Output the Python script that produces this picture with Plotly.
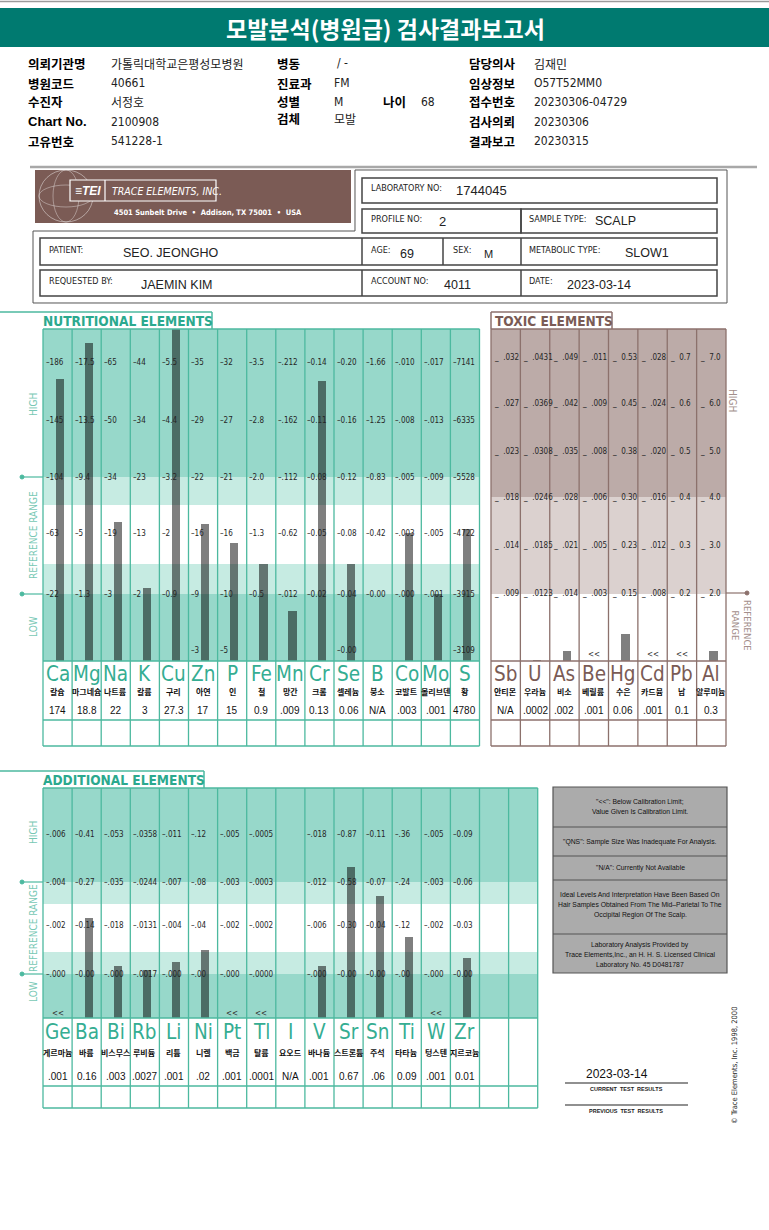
import plotly.graph_objects as go

W, H = 769, 1230

# ---------------- DATA ----------------
nut_symbols = ["Ca", "Mg", "Na", "K", "Cu", "Zn", "P", "Fe", "Mn", "Cr", "Se", "B", "Co", "Mo", "S"]
nut_korean = ["칼슘", "마그네슘", "나트륨", "칼륨", "구리", "아연", "인", "철", "망간", "크롬", "셀레늄", "붕소", "코발트", "몰리브덴", "황"]
nut_results = ["174", "18.8", "22", "3", "27.3", "17", "15", "0.9", ".009", "0.13", "0.06", "N/A", ".003", ".001", "4780"]
# scale ticks, bottom -> top (None = no printed bottom tick)
nut_ticks = [
    [None, "22", "63", "104", "145", "186"],
    [None, "1.3", "5", "9.4", "13.5", "17.5"],
    [None, "3", "19", "34", "50", "65"],
    [None, "2", "13", "23", "34", "44"],
    [None, "0.9", "2", "3.2", "4.4", "5.5"],
    ["3", "9", "16", "22", "29", "35"],
    ["5", "10", "16", "21", "27", "32"],
    [None, "0.5", "1.3", "2.0", "2.8", "3.5"],
    [None, ".012", "0.62", ".112", ".162", ".212"],
    [None, "0.02", "0.05", "0.08", "0.11", "0.14"],
    ["0.00", "0.04", "0.08", "0.12", "0.16", "0.20"],
    [None, "0.00", "0.42", "0.83", "1.25", "1.66"],
    [None, ".000", ".003", ".005", ".008", ".010"],
    [None, ".001", ".005", ".009", ".013", ".017"],
    ["3109", "3915", "4722", "5528", "6335", "7141"],
]

tox_symbols = ["Sb", "U", "As", "Be", "Hg", "Cd", "Pb", "Al"]
tox_korean = ["안티몬", "우라늄", "비소", "베릴륨", "수은", "카드뮴", "납", "알루미늄"]
tox_results = ["N/A", ".0002", ".002", ".001", "0.06", ".001", "0.1", "0.3"]
tox_below = [False, False, False, True, False, True, True, False]
tox_ticks = [
    [".009", ".014", ".018", ".023", ".027", ".032"],
    [".0123", ".0185", ".0246", ".0308", ".0369", ".0431"],
    [".014", ".021", ".028", ".035", ".042", ".049"],
    [".003", ".005", ".006", ".008", ".009", ".011"],
    ["0.15", "0.23", "0.30", "0.38", "0.45", "0.53"],
    [".008", ".012", ".016", ".020", ".024", ".028"],
    ["0.2", "0.3", "0.4", "0.5", "0.6", "0.7"],
    ["2.0", "3.0", "4.0", "5.0", "6.0", "7.0"],
]

add_symbols = ["Ge", "Ba", "Bi", "Rb", "Li", "Ni", "Pt", "Tl", "I", "V", "Sr", "Sn", "Ti", "W", "Zr"]
add_korean = ["게르마늄", "바륨", "비스무스", "루비듐", "리튬", "니켈", "백금", "탈륨", "요오드", "바나듐", "스트론튬", "주석", "타타늄", "텅스텐", "지르코늄"]
add_results = [".001", "0.16", ".003", ".0027", ".001", ".02", ".001", ".0001", "N/A", ".001", "0.67", ".06", "0.09", ".001", "0.01"]
add_below = [True, False, False, False, False, False, True, True, False, False, False, False, False, True, False]
add_ticks = [
    [".000", ".002", ".004", ".006"],
    ["0.00", "0.14", "0.27", "0.41"],
    [".000", ".018", ".035", ".053"],
    [".0017", ".0131", ".0244", ".0358"],
    [".000", ".004", ".007", ".011"],
    [".00", ".04", ".08", ".12"],
    [".000", ".002", ".003", ".005"],
    [".0000", ".0002", ".0003", ".0005"],
    [],
    [".000", ".006", ".012", ".018"],
    ["0.00", "0.30", "0.58", "0.87"],
    ["0.00", "0.04", "0.07", "0.11"],
    [".00", ".12", ".24", ".36"],
    [".000", ".002", ".003", ".005"],
    ["0.00", "0.03", "0.06", "0.09"],
]

info_rows = [
    ("의뢰기관명", "가톨릭대학교은평성모병원", "병동", "/ -", "담당의사", "김재민"),
    ("병원코드", "40661", "진료과", "FM", "임상정보", "O57T52MM0"),
    ("수진자", "서정호", "성별", "M", "접수번호", "20230306-04729"),
    ("Chart No.", "2100908", "검체", "모발", "검사의뢰", "20230306"),
    ("고유번호", "541228-1", "", "", "결과보고", "20230315"),
]
age_label, age_value = "나이", "68"

# ---------------- STYLE ----------------
FN = "Liberation Sans Narrow, Arial Narrow, DejaVu Sans Condensed, sans-serif"
FS = "Liberation Sans, Arial, sans-serif"
FK = "Noto Sans CJK KR, sans-serif"
TEAL_DARK = "#97d8ca"
TEAL_LIGHT = "#c6ebe2"
TEAL_LINE = "#4cb99f"
TEAL_TEXT = "#2ba98e"
TEAL_SIDE = "#78c8b5"
BR_DARK = "#bcaba8"
BR_LIGHT = "#dbd1cf"
BR_LINE = "#8c716c"
BR_TEXT = "#7a5b55"
BAR = "rgba(0,0,0,0.5)"
TICK = "#262626"

shapes, annots = [], []


def X(x):
    return x / W


def Y(y):
    return 1 - y / H


def rect(x0, y0, x1, y1, fill=None, color=None, width=1, layer="below"):
    shapes.append(dict(type="rect", xref="paper", yref="paper", x0=X(x0), x1=X(x1), y0=Y(y1), y1=Y(y0),
                       fillcolor=fill or "rgba(0,0,0,0)",
                       line=dict(color=color or "rgba(0,0,0,0)", width=width if color else 0), layer=layer))


def seg(x0, y0, x1, y1, color, width=1, layer="above"):
    shapes.append(dict(type="line", xref="paper", yref="paper", x0=X(x0), x1=X(x1), y0=Y(y0), y1=Y(y1),
                       line=dict(color=color, width=width), layer=layer))


def circ(cx, cy, rx, ry, color, width=0.8, fill=None):
    shapes.append(dict(type="circle", xref="paper", yref="paper", x0=X(cx - rx), x1=X(cx + rx),
                       y0=Y(cy + ry), y1=Y(cy - ry), line=dict(color=color, width=width),
                       fillcolor=fill or "rgba(0,0,0,0)", layer="below"))


def txt(x, y, s, size=10, color="#000", family=FS, xa="left", ya="middle", angle=0):
    annots.append(dict(xref="paper", yref="paper", x=X(x), y=Y(y), text=s, showarrow=False,
                       xanchor=xa, yanchor=ya, textangle=angle, borderpad=0,
                       font=dict(size=size, color=color, family=family)))


def to_height(v, pairs):
    for (a, ha), (b, hb) in zip(pairs[:-1], pairs[1:]):
        if a != b and min(a, b) <= v <= max(a, b):
            return ha + (v - a) / (b - a) * (hb - ha)
    (a, ha), (b, hb) = pairs[-2], pairs[-1]
    return hb + (v - b) / (b - a) * (hb - ha)


def bar_data(symbols, results, ticks, tick_h, below, zero_base, top):
    xs, hs = [], []
    for i, (s, r, tk) in enumerate(zip(symbols, results, ticks)):
        if below[i] or not tk:
            continue
        try:
            v = float(r)
        except ValueError:
            continue
        pairs = [(float(t), h) for t, h in zip(tk, tick_h) if t is not None]
        if zero_base and (tk[0] is None or zero_base == "always"):
            pairs = [(0.0, 0.0)] + pairs
        xs.append(s)
        hs.append(min(to_height(v, pairs), top))
    return xs, hs


# ---------------- HEADER ----------------
seg(0, 1.5, W, 1.5, "#9a9a9a", 1.5)
rect(0, 8, W, 47, fill="#007a70")
txt(W / 2 + 1, 28, "<b>모발분석(병원급) 검사결과보고서</b>", 23, "#ffffff", FK, xa="center")

row_y = [63, 83, 102, 122, 141]
for (l1, v1, l2, v2, l3, v3), yy in zip(info_rows, row_y):
    fam1 = FS if l1.startswith("Chart") else FK
    txt(27, yy, "<b>%s</b>" % l1, 12.5 if fam1 == FK else 13, "#000", fam1)
    txt(110, yy, v1, 12, "#222", FK if not v1[0].isdigit() else FN)
    if l2:
        txt(276, yy - (4 if l2 == "검체" else 0), "<b>%s</b>" % l2, 12.5, "#000", FK)
        txt(336 if v2 == "/ -" else 333, yy - (4 if l2 == "검체" else 0), v2, 12, "#222",
            FK if v2 == "모발" else FN)
    txt(468, yy, "<b>%s</b>" % l3, 12.5, "#000", FK)
    txt(533, yy, v3, 12, "#222", FK if v3 == "김재민" else FN)
txt(382, row_y[2], "<b>%s</b>" % age_label, 12.5, "#000", FK)
txt(420, row_y[2], age_value, 12, "#222", FN)

# ---------------- TEI BLOCK ----------------
seg(30, 167, 757, 167, "#a8a8a8", 2.5)
rect(35, 170, 351, 223, fill="#7b5b55")
circ(66, 196, 27, 26, "rgba(255,255,255,0.55)")
circ(66, 196, 13, 26, "rgba(255,255,255,0.45)")
circ(66, 196, 27, 11, "rgba(255,255,255,0.45)")
rect(70, 180, 216, 201, fill="#7b5b55", color="#ffffff", width=1.2)
seg(105, 180, 105, 201, "#ffffff", 1.2, layer="below")
txt(74, 190.5, "<b><i>≡TEI</i></b>", 12, "#ffffff", FS)
txt(111, 190.5, "<i>TRACE ELEMENTS, INC.</i>", 10.5, "#ffffff", FN)
txt(113, 213, "<b>4501 Sunbelt Drive  •  Addison, TX 75001  •  USA</b>", 7.5, "#ffffff", FN)

shapes.append(dict(type="path", xref="paper", yref="paper",
                   path="M %f %f L %f %f L %f %f L %f %f L %f %f L %f %f Z" % (
                       X(33), Y(303), X(33), Y(231), X(355), Y(231), X(355), Y(170), X(727), Y(170), X(727), Y(303)),
                   line=dict(color="#555555", width=1), layer="below"))
BOXC = "#444444"
rect(362, 178, 717, 203, color=BOXC, width=1.5)
rect(362, 209, 521, 233, color=BOXC, width=1.5)
rect(521, 209, 717, 233, color=BOXC, width=1.5)
rect(40, 238, 717, 265, color=BOXC, width=1.5)
for xx in (362, 443, 521):
    seg(xx, 238, xx, 265, BOXC, 1.5, layer="below")
rect(40, 270, 717, 296, color=BOXC, width=1.5)
for xx in (362, 521):
    seg(xx, 270, xx, 296, BOXC, 1.5, layer="below")

SMALL = 9
txt(370, 188, "LABORATORY NO:", SMALL, "#222", FN)
txt(455, 190, "1744045", 13, "#222", FS)
txt(370, 219, "PROFILE NO:", SMALL, "#222", FN)
txt(438, 221, "2", 13, "#222", FS)
txt(528, 219, "SAMPLE TYPE:", SMALL, "#222", FN)
txt(594, 221, "SCALP", 12.5, "#222", FS)
txt(48, 250, "PATIENT:", SMALL, "#222", FN)
txt(122, 253, "SEO. JEONGHO", 12.5, "#222", FS)
txt(370, 250, "AGE:", SMALL, "#222", FN)
txt(399, 254, "69", 12.5, "#222", FS)
txt(452, 250, "SEX:", SMALL, "#222", FN)
txt(483, 254, "M", 11, "#222", FS)
txt(528, 250, "METABOLIC TYPE:", SMALL, "#222", FN)
txt(624, 253, "SLOW1", 12.5, "#222", FS)
txt(48, 281, "REQUESTED BY:", SMALL, "#222", FN)
txt(140, 285, "JAEMIN KIM", 12.5, "#222", FS)
txt(370, 281, "ACCOUNT NO:", SMALL, "#222", FN)
txt(443, 285, "4011", 12.5, "#222", FS)
txt(528, 281, "DATE:", SMALL, "#222", FN)
txt(566, 285, "2023-03-14", 12.5, "#222", FS)

# ---------------- NUTRITIONAL ----------------
N_L, N_CW, N_TOP, N_BOT = 43, 29.1, 329, 661
nut_tick_h = [11, 67, 128, 184, 241, 299]
nn = len(nut_symbols)
N_R = N_L + nn * N_CW
rect(N_L, 329, N_R, 477, fill=TEAL_DARK)
rect(N_L, 477, N_R, 505, fill=TEAL_LIGHT)
rect(N_L, 564, N_R, 594, fill=TEAL_LIGHT)
rect(N_L, 594, N_R, N_BOT, fill=TEAL_DARK)
seg(0, 312, 212, 312, TEAL_LINE, 1.5)
seg(212, 312, 212, 329, TEAL_LINE, 1.5)
txt(42, 321, "<b>NUTRITIONAL ELEMENTS</b>", 13.6, TEAL_TEXT, FN)
for yy in (N_TOP, N_BOT, 720, 746):
    seg(N_L, yy, N_R, yy, TEAL_LINE, 1.3)
for i in range(nn + 1):
    seg(N_L + i * N_CW, N_TOP, N_L + i * N_CW, 746, TEAL_LINE, 1.3)
for yy in (477, 594):
    seg(22, yy, N_L, yy, TEAL_LINE, 1.2)
    circ(22, yy, 2, 2, TEAL_LINE, 1, TEAL_LINE)
txt(33, 405, "HIGH", 10, TEAL_SIDE, FN, xa="center", angle=-90)
txt(33, 535, "REFERENCE RANGE", 10, TEAL_SIDE, FN, xa="center", angle=-90)
txt(33, 627, "LOW", 10, TEAL_SIDE, FN, xa="center", angle=-90)
for i in range(nn):
    cl = N_L + i * N_CW
    cx = cl + N_CW / 2
    for t, h in zip(nut_ticks[i], nut_tick_h):
        if t is not None:
            txt(cl + 1.5, N_BOT - h, "–" + t, 8, TICK, FN)
    txt(cx, 674, nut_symbols[i], 20.5, "#35ad92", FN, xa="center")
    txt(cx, 691, "<b>%s</b>" % nut_korean[i], 8, "#111", FK, xa="center")
    txt(cx, 710, nut_results[i], 10, "#111", FS, xa="center")

# ---------------- TOXIC ----------------
T_L, T_CW = 491, 29.375
tox_tick_h = [68, 116, 164, 209, 257, 304]
nt = len(tox_symbols)
T_R = T_L + nt * T_CW
rect(T_L, 329, T_R, 497, fill=BR_DARK)
rect(T_L, 497, T_R, 594, fill=BR_LIGHT)
seg(T_L, 312, 612, 312, BR_LINE, 1.5)
seg(612, 312, 612, 329, BR_LINE, 1.5)
seg(T_L, 312, T_L, 329, BR_LINE, 1.5)
txt(494, 321, "<b>TOXIC ELEMENTS</b>", 13.6, BR_TEXT, FN)
for yy in (N_TOP, N_BOT, 720, 746):
    seg(T_L, yy, T_R, yy, BR_LINE, 1.3)
for i in range(nt + 1):
    seg(T_L + i * T_CW, N_TOP, T_L + i * T_CW, 746, BR_LINE, 1.3)
seg(T_R, 593, 747, 593, BR_LINE, 1.2)
circ(747, 593, 2, 2, BR_LINE, 1, BR_LINE)
txt(733, 400, "HIGH", 10, "#a38e8a", FN, xa="center", angle=90)
txt(742, 625, "REFERENCE<br>RANGE", 9.5, "#a38e8a", FN, xa="center", angle=90)
for i in range(nt):
    cl = T_L + i * T_CW
    cx = cl + T_CW / 2
    for t, h in zip(tox_ticks[i], tox_tick_h):
        txt(cl + 2, N_BOT - h, "_  " + t, 8, TICK, FN)
    if tox_below[i]:
        txt(cx, 654, "<<", 8, "#333", FN, xa="center")
    txt(cx, 674, tox_symbols[i], 20.5, BR_TEXT, FN, xa="center")
    txt(cx, 691, "<b>%s</b>" % tox_korean[i], 8, "#111", FK, xa="center")
    txt(cx, 710, tox_results[i], 10, "#111", FS, xa="center")

# ---------------- ADDITIONAL ----------------
A_L, A_CW, A_TOP, A_BOT = 43, 29.1, 788, 1018
add_tick_h = [44, 93, 136, 184]
na_cols = 17
A_R = A_L + na_cols * A_CW
rect(A_L, A_TOP, A_R, 882, fill=TEAL_DARK)
rect(A_L, 882, A_R, 904, fill=TEAL_LIGHT)
rect(A_L, 952, A_R, 974, fill=TEAL_LIGHT)
rect(A_L, 974, A_R, A_BOT, fill=TEAL_DARK)
seg(0, 771, 204, 771, TEAL_LINE, 1.5)
seg(204, 771, 204, 788, TEAL_LINE, 1.5)
txt(42, 780, "<b>ADDITIONAL ELEMENTS</b>", 13.6, TEAL_TEXT, FN)
for yy in (A_TOP, A_BOT, 1086, 1108):
    seg(A_L, yy, A_R, yy, TEAL_LINE, 1.3)
for i in range(na_cols + 1):
    seg(A_L + i * A_CW, A_TOP, A_L + i * A_CW, 1108, TEAL_LINE, 1.3)
for yy in (882, 974):
    seg(22, yy, A_L, yy, TEAL_LINE, 1.2)
    circ(22, yy, 2, 2, TEAL_LINE, 1, TEAL_LINE)
txt(33, 833, "HIGH", 10, TEAL_SIDE, FN, xa="center", angle=-90)
txt(33, 928, "REFERENCE RANGE", 10, TEAL_SIDE, FN, xa="center", angle=-90)
txt(33, 992, "LOW", 10, TEAL_SIDE, FN, xa="center", angle=-90)
for i in range(len(add_symbols)):
    cl = A_L + i * A_CW
    cx = cl + A_CW / 2
    for t, h in zip(add_ticks[i], add_tick_h):
        txt(cl + 1.5, A_BOT - h, "–" + t, 8, TICK, FN)
    if add_below[i]:
        txt(cx, 1013, "<<", 8, "#333", FN, xa="center")
    txt(cx, 1032, add_symbols[i], 20.5, "#35ad92", FN, xa="center")
    txt(cx, 1052, "<b>%s</b>" % add_korean[i], 8, "#111", FK, xa="center")
    txt(cx, 1076, add_results[i], 10, "#111", FS, xa="center")

# ---------------- NOTES BOX ----------------
rect(553, 787, 727, 973, fill="#ababab", color="#555555", width=1.2)
for yy in (827, 856, 880, 934):
    seg(553, yy, 727, yy, "#555555", 1.2)
NC = 640
NF = 6.8
txt(NC, 801, '"<<": Below Calibration Limit;', NF, "#111", FS, xa="center")
txt(NC, 811, "Value Given Is Calibration Limit.", NF, "#111", FS, xa="center")
txt(NC, 842, '"QNS": Sample Size Was Inadequate For Analysis.', NF, "#111", FS, xa="center")
txt(NC, 868, '"N/A": Currently Not Available', NF, "#111", FS, xa="center")
txt(NC, 895, "Ideal Levels And Interpretation Have Been Based On", NF, "#111", FS, xa="center")
txt(NC, 905, "Hair Samples Obtained From The Mid–Parietal To The", NF, "#111", FS, xa="center")
txt(NC, 915, "Occipital Region Of The Scalp.", NF, "#111", FS, xa="center")
txt(NC, 945, "Laboratory Analysis Provided by", NF, "#111", FS, xa="center")
txt(NC, 955, "Trace Elements,Inc., an H. H. S. Licensed Clinical", NF, "#111", FS, xa="center")
txt(NC, 965, "Laboratory No. 45 D0481787", NF, "#111", FS, xa="center")

txt(617, 1074, "2023-03-14", 12, "#111", FS, xa="center")
seg(565, 1083, 688, 1083, "#222", 1.2)
txt(626, 1089, "<b>CURRENT  TEST  RESULTS</b>", 5.5, "#222", FS, xa="center")
seg(565, 1105, 688, 1105, "#222", 1.2)
txt(626, 1111, "<b>PREVIOUS  TEST  RESULTS</b>", 5.5, "#222", FS, xa="center")
txt(734, 1066, "© Trace Elements, Inc. 1998, 2000", 7.5, "#222", FN, xa="center", angle=-90)

# ---------------- BARS ----------------
fig = go.Figure()
nx, nh = bar_data(nut_symbols, nut_results, nut_ticks, nut_tick_h, [False] * nn, True, N_BOT - N_TOP)
tx, th = bar_data(tox_symbols, tox_results, tox_ticks, tox_tick_h, tox_below, "always", N_BOT - N_TOP)
ax, ah = bar_data(add_symbols, add_results, add_ticks, add_tick_h, add_below, False, A_BOT - A_TOP)
BW, BO = 0.28, -0.065
fig.add_trace(go.Bar(x=nx, y=nh, width=BW, offset=BO, marker=dict(color=BAR, line=dict(width=0)),
                     xaxis="x", yaxis="y", hoverinfo="skip"))
fig.add_trace(go.Bar(x=tx, y=th, width=BW, offset=BO, marker=dict(color=BAR, line=dict(width=0)),
                     xaxis="x2", yaxis="y2", hoverinfo="skip"))
fig.add_trace(go.Bar(x=ax, y=ah, width=BW, offset=BO, marker=dict(color=BAR, line=dict(width=0)),
                     xaxis="x3", yaxis="y3", hoverinfo="skip"))


def xax(l, r, cats, n):
    return dict(domain=[X(l), X(r)], type="category", categoryarray=cats, categoryorder="array",
                range=[-0.5, n - 0.5], visible=False, fixedrange=True)


def yax(top, bot, anchor):
    return dict(domain=[Y(bot), Y(top)], range=[0, bot - top], visible=False, fixedrange=True, anchor=anchor)


fig.update_layout(
    width=W, height=H, margin=dict(l=0, r=0, t=0, b=0),
    paper_bgcolor="#ffffff", plot_bgcolor="rgba(0,0,0,0)", showlegend=False, bargap=0,
    xaxis=dict(xax(N_L, N_R, nut_symbols, nn), anchor="y"),
    yaxis=yax(N_TOP, N_BOT, "x"),
    xaxis2=dict(xax(T_L, T_R, tox_symbols, nt), anchor="y2"),
    yaxis2=yax(N_TOP, N_BOT, "x2"),
    xaxis3=dict(xax(A_L, A_R, add_symbols, na_cols), anchor="y3"),
    yaxis3=yax(A_TOP, A_BOT, "x3"),
    shapes=shapes, annotations=annots,
)
fig.write_html("out.html", config={"displayModeBar": False},
               post_script="document.body.style.margin='0';document.body.style.overflow='hidden';")
